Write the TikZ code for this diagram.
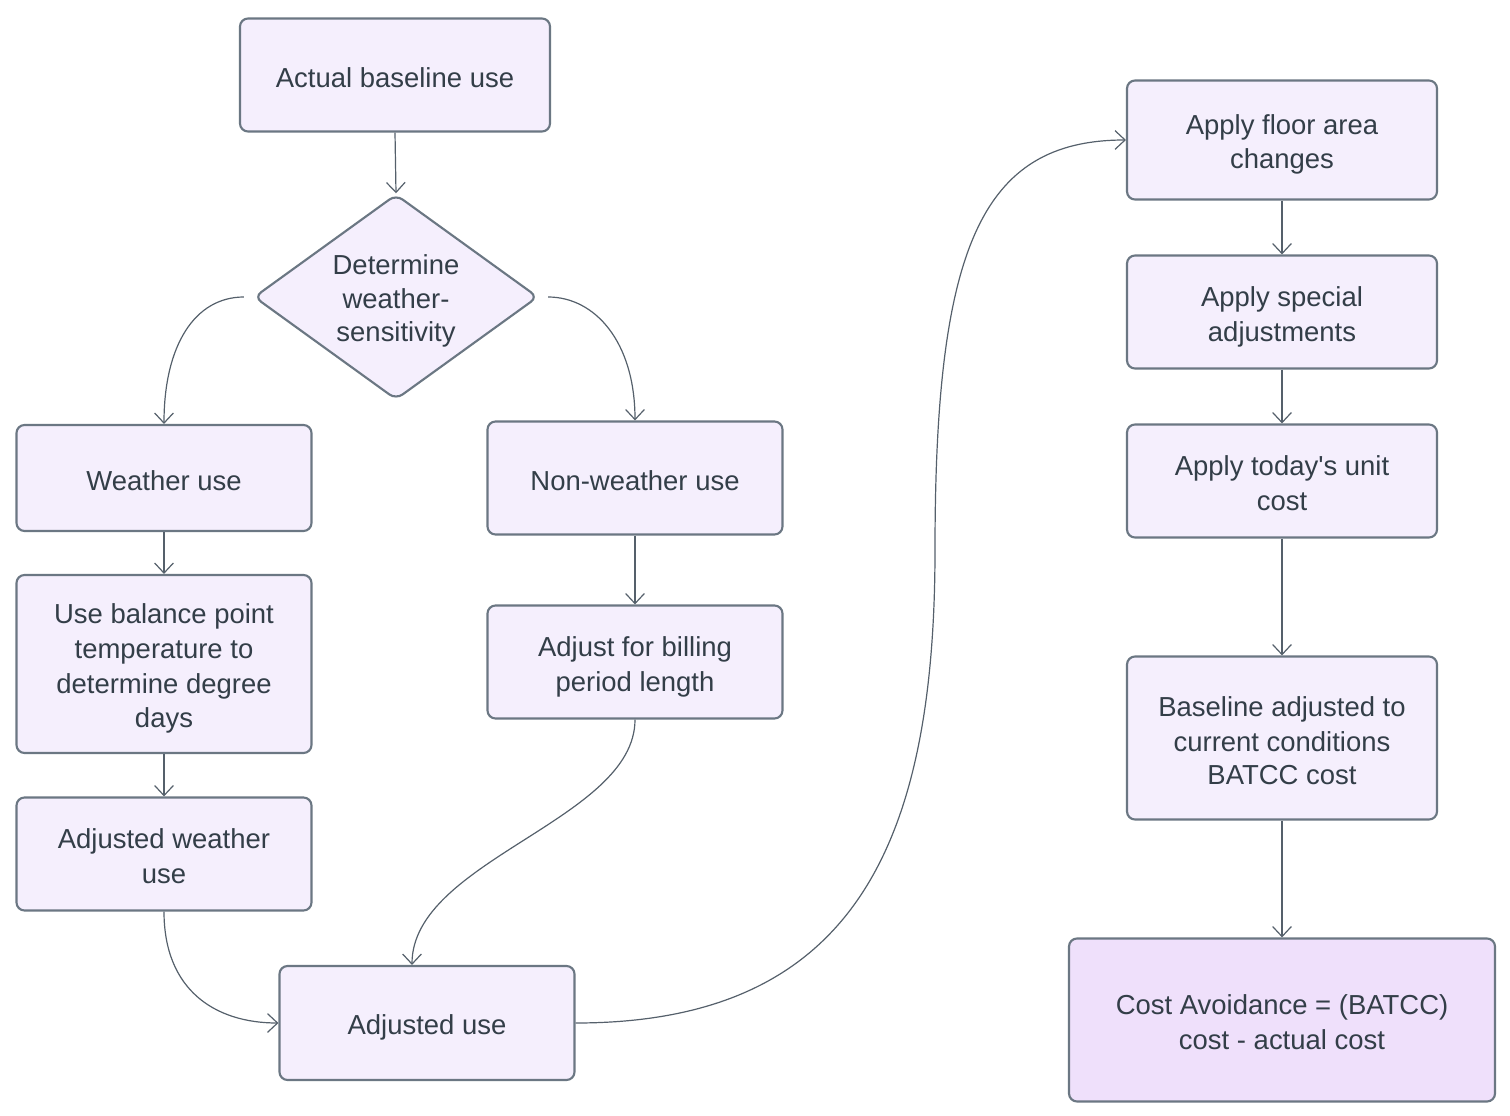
\documentclass[tikz,border=0pt]{standalone}
\usepackage{fontspec}
\usepackage{array}
\setmainfont{Liberation Sans}[Ligatures=TeXOff]
\usetikzlibrary{shapes.geometric,arrows.meta}
\definecolor{boxfill}{HTML}{F5EFFD}
\definecolor{endfill}{HTML}{EFE0FB}
\definecolor{boxline}{HTML}{6B7783}
\definecolor{txt}{HTML}{333E48}
\definecolor{edge}{HTML}{55606B}
\setlength\extrarowheight{14.17pt}
\setlength\tabcolsep{0pt}
\newcommand{\boxtxt}[1]{\begin{tabular}{c}#1\end{tabular}}
\begin{document}
\begin{tikzpicture}[x=0.75pt,y=-0.75pt,
  box/.style={draw=boxline,line width=1.6pt,fill=boxfill,rounded corners=6pt,
    inner sep=0pt,text=txt,font=\fontsize{20.6}{10.83}\selectfont},
  endbox/.style={box,fill=endfill},
  dia/.style={draw=boxline,line width=1.6pt,fill=boxfill,shape=diamond,rounded corners=6pt,inner sep=0pt},
  lbl/.style={align=center,text=txt,font=\fontsize{20.6}{25.2}\selectfont,inner sep=0pt},
  arr/.style={draw=edge,line width=0.9pt,-{Straight Barb[length=7.5pt,width=14pt,line width=0.9pt]}}]
\useasboundingbox (0,0) rectangle (1510,1116);
% nodes
\node[box,minimum width=232.5pt,minimum height=84.75pt] (a) at (395,75) {\boxtxt{Actual baseline use}};
\node[dia,minimum width=213pt,minimum height=154pt] (d) at (396,297) {};
\node[lbl] (dt) at (396,301) {Determine\\weather-\\sensitivity};
\node[box,minimum width=221.25pt,minimum height=79.5pt] (w) at (164,478) {\boxtxt{Weather use}};
\node[box,minimum width=221.25pt,minimum height=84.75pt] (nw) at (635,478) {\boxtxt{Non-weather use}};
\node[box,minimum width=221.25pt,minimum height=133.5pt] (bp) at (164,664) {\boxtxt{Use balance point\\temperature to\\determine degree\\days}};
\node[box,minimum width=221.25pt,minimum height=84.75pt] (bl) at (635,662) {\boxtxt{Adjust for billing\\period length}};
\node[box,minimum width=221.25pt,minimum height=84.75pt] (aw) at (164,854) {\boxtxt{Adjusted weather\\use}};
\node[box,minimum width=221.25pt,minimum height=85.5pt] (au) at (427,1023) {\boxtxt{Adjusted use}};
\node[box,minimum width=232.5pt,minimum height=89.25pt] (f) at (1282,140) {\boxtxt{Apply floor area\\changes}};
\node[box,minimum width=232.5pt,minimum height=84.75pt] (s) at (1282,312) {\boxtxt{Apply special\\adjustments}};
\node[box,minimum width=232.5pt,minimum height=84.75pt] (u) at (1282,481) {\boxtxt{Apply today's unit\\cost}};
\node[box,minimum width=232.5pt,minimum height=122.25pt] (b) at (1282,738) {\boxtxt{Baseline adjusted to\\current conditions\\BATCC cost}};
\node[endbox,minimum width=319.5pt,minimum height=122.25pt] (c) at (1282,1020) {\boxtxt{Cost Avoidance = (BATCC)\\cost - actual cost}};
% helper coordinates
\coordinate (dl) at ([xshift=-6.75pt]d.west);
\coordinate (dr) at ([xshift=6.75pt]d.east);
\coordinate (mid) at (935,550);
% edges
\draw[arr] (a.south) -- (d.north);
\draw[arr] (dl) .. controls (195,297) and (164,345) .. (w.north);
\draw[arr] (dr) .. controls (595,297) and (635,342) .. (nw.north);
\draw[arr] (w.south) -- (bp.north);
\draw[arr] (bp.south) -- (aw.north);
\draw[arr] (nw.south) -- (bl.north);
\draw[arr] (bl.south) .. controls (635,820) and (412,860) .. ([xshift=-11.25pt]au.north);
\draw[arr] (aw.south) .. controls (164,990) and (215,1023) .. (au.west);
\draw[arr] (au.east) .. controls (850,1023) and (935,850) .. (mid) .. controls (935,250) and (980,140) .. (f.west);
\draw[arr] (f.south) -- (s.north);
\draw[arr] (s.south) -- (u.north);
\draw[arr] (u.south) -- (b.north);
\draw[arr] (b.south) -- (c.north);
\end{tikzpicture}
\end{document}
